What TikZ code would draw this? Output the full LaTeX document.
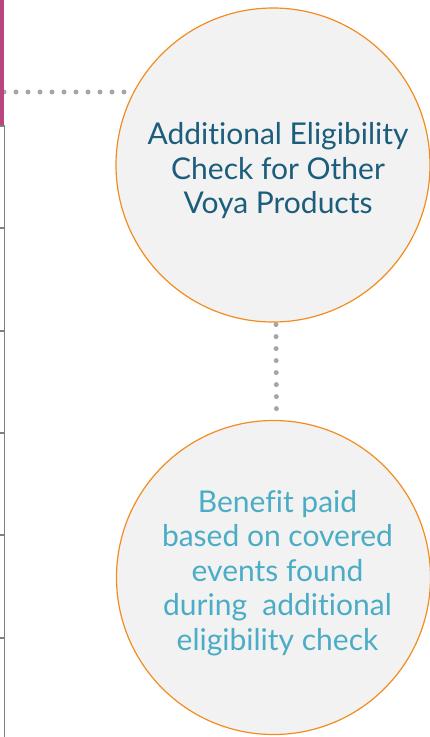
\documentclass[tikz,border=0pt]{standalone}
\usepackage{fontspec}
\setmainfont{Lato}[Ligatures=NoCommon]
\usetikzlibrary{backgrounds}
\definecolor{voyaorange}{HTML}{F28C1E}
\definecolor{bubblefill}{HTML}{F2F2F2}
\definecolor{darkteal}{HTML}{1C5D7C}
\definecolor{lightteal}{HTML}{4BACC6}
\definecolor{dotgray}{HTML}{A6A6A6}
\definecolor{framegray}{HTML}{808080}
\definecolor{plum}{HTML}{B9457F}
% #1 horizontal indent (twice the wanted shift), #2 raise, #3 lines
\newcommand{\bubbletext}[3]{\hspace*{#1}\raisebox{#2}[0pt][0pt]{\begin{tabular}{@{}c@{}}#3\end{tabular}}}
\tikzset{
  bubble/.style={circle, draw=voyaorange, line width=1.2pt, fill=bubblefill,
    minimum size=314pt, inner sep=0pt, font=\fontsize{30}{34.5}\selectfont},
  dotline/.style={draw=dotgray, line width=5pt, line cap=round, dash pattern=on 0pt off 12pt},
  frameline/.style={draw=framegray, line width=1.2pt}
}
\begin{document}
\begin{tikzpicture}[x=1pt, y=-1pt]
  \useasboundingbox (0,0) rectangle (429,737);
  % left-hand frame of the neighbouring column
  \fill[plum] (0,0) rectangle (3.8,125);
  \draw[frameline] (4.3,125) -- (4.3,737);
  \foreach \yy in {126,228,331,433,535,638}
    \draw[frameline] (0,\yy) -- (4.3,\yy);
  % bubbles
  \node[bubble, text=darkteal] (c1) at (273,165)
    {\bubbletext{10pt}{-13.5pt}{Additional Eligibility\\Check for Other\\Voya Products}};
  \node[bubble, text=lightteal] (c2) at (273.5,577.5)
    {\bubbletext{8pt}{-3pt}{Benefit paid\\based on covered\\events found\\during\ \ additional\\eligibility check}};
  \coordinate (hl) at (4,92);
  % dotted connectors behind the bubbles
  \begin{pgfonlayer}{background}
    \draw[dotline] (hl) -- (hl -| c1.center);
    \draw[dotline] ([xshift=3pt,yshift=-2pt]c1.south) -- ([xshift=3pt]c2.north);
  \end{pgfonlayer}
\end{tikzpicture}
\end{document}
